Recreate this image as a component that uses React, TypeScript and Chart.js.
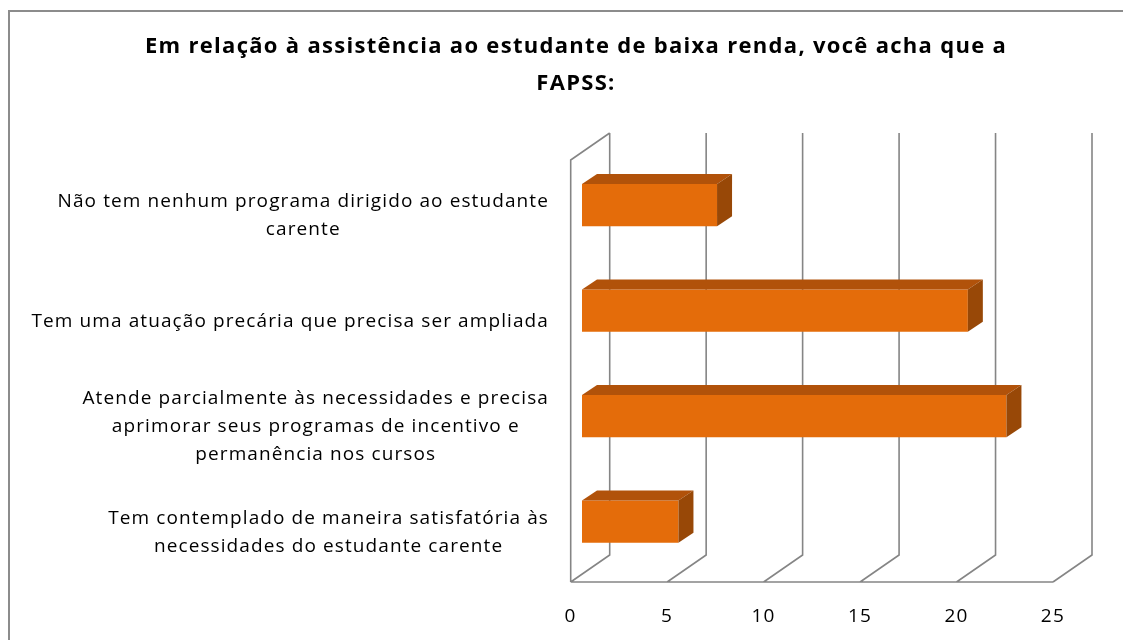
import React, { useEffect, useRef } from "react";
import { Chart, registerables } from "chart.js";

Chart.register(...registerables);

// ---------- data ----------
const titleLines = [
  "Em relação à assistência ao estudante de baixa renda, você acha que a",
  "FAPSS:",
];
const categories: string[][] = [
  ["Não tem nenhum programa dirigido ao estudante", "carente"],
  ["Tem uma atuação precária que precisa ser ampliada"],
  [
    "Atende parcialmente às necessidades e precisa",
    "aprimorar seus programas de incentivo e",
    "permanência nos cursos",
  ],
  ["Tem contemplado de maneira satisfatória às", "necessidades do estudante carente"],
];
const values = [7, 20, 22, 5];
const xMin = 0;
const xMax = 25;
const xStep = 5;

// ---------- layout / style ----------
const W = 1152;
const H = 640;
const AREA_LEFT = 570.7;
const AREA_RIGHT = 1053;
const AREA_TOP = 160;
const AREA_BOTTOM = 582;
const DEPTH_X = 39;
const DEPTH_Y = 27;
const BAR_SHIFT_X = 11.3;
const BAR_SHIFT_Y = -7.7;
const BAR_DEPTH_X = 15;
const BAR_DEPTH_Y = 10;
const FONT = '"Open Sans", "Noto Sans", sans-serif';
const LABEL_SIZE = 19;
const LABEL_SPACING = "1.1px";
const TITLE_SPACING = "1.3px";
const LABEL_LINE_H = 28;
const LABEL_RIGHT = 549;
const FRONT_COLOR = "#E46C0A";
const TOP_COLOR = "#B1520A";
const SIDE_COLOR = "#984807";
const GRID_COLOR = "#858585";

const frame3d = {
  id: "frame3d",
  beforeDraw(chart: any) {
    const ctx = chart.ctx;
    ctx.save();
    ctx.fillStyle = "#ffffff";
    ctx.fillRect(0, 0, W, H);
    ctx.strokeStyle = "#8c8c8c";
    ctx.lineWidth = 2;
    ctx.strokeRect(9, 11, W + 40, H + 40);
    ctx.restore();
    // wide letter spacing for the title / tick texts drawn by Chart.js
    (ctx as any).letterSpacing = TITLE_SPACING;
  },
  beforeDatasetsDraw(chart: any) {
    const { ctx, chartArea: a, scales } = chart;
    const x = scales.x;
    ctx.save();
    ctx.strokeStyle = GRID_COLOR;
    ctx.lineWidth = 1.6;
    ctx.beginPath();
    // left wall
    ctx.moveTo(a.left, a.bottom);
    ctx.lineTo(a.left, a.top);
    ctx.lineTo(a.left + DEPTH_X, a.top - DEPTH_Y);
    // front floor edge
    ctx.moveTo(a.left, a.bottom);
    ctx.lineTo(a.right, a.bottom);
    // floor slants + back wall gridlines
    x.ticks.forEach((t: any) => {
      const px = x.getPixelForValue(t.value);
      ctx.moveTo(px, a.bottom);
      ctx.lineTo(px + DEPTH_X, a.bottom - DEPTH_Y);
      ctx.lineTo(px + DEPTH_X, a.top - DEPTH_Y);
    });
    ctx.stroke();
    ctx.restore();
    // bars sit a little behind the front plane
    ctx.save();
    ctx.translate(BAR_SHIFT_X, BAR_SHIFT_Y);
  },
  afterDatasetsDraw(chart: any) {
    const ctx = chart.ctx;
    const meta = chart.getDatasetMeta(0);
    meta.data.forEach((bar: any) => {
      const { x, y, base, height } = bar.getProps(["x", "y", "base", "height"], true);
      const top = y - height / 2;
      const bottom = y + height / 2;
      const x0 = base;
      const x1 = x;
      ctx.fillStyle = TOP_COLOR;
      ctx.beginPath();
      ctx.moveTo(x0, top);
      ctx.lineTo(x0 + BAR_DEPTH_X, top - BAR_DEPTH_Y);
      ctx.lineTo(x1 + BAR_DEPTH_X, top - BAR_DEPTH_Y);
      ctx.lineTo(x1, top);
      ctx.closePath();
      ctx.fill();
      ctx.fillStyle = SIDE_COLOR;
      ctx.beginPath();
      ctx.moveTo(x1, top);
      ctx.lineTo(x1 + BAR_DEPTH_X, top - BAR_DEPTH_Y);
      ctx.lineTo(x1 + BAR_DEPTH_X, bottom - BAR_DEPTH_Y);
      ctx.lineTo(x1, bottom);
      ctx.closePath();
      ctx.fill();
    });
    ctx.restore();
  },
  afterDraw(chart: any) {
    const { ctx, scales } = chart;
    const y = scales.y;
    ctx.save();
    ctx.font = `${LABEL_SIZE}px ${FONT}`;
    (ctx as any).letterSpacing = LABEL_SPACING;
    ctx.fillStyle = "#000000";
    ctx.textAlign = "center";
    ctx.textBaseline = "middle";
    categories.forEach((lines, i) => {
      const cy = y.getPixelForValue(i) + 3;
      const w = Math.max(...lines.map((l) => ctx.measureText(l).width));
      const cx = LABEL_RIGHT - w / 2;
      lines.forEach((l, j) => {
        ctx.fillText(l, cx, cy + (j - (lines.length - 1) / 2) * LABEL_LINE_H);
      });
    });
    ctx.restore();
  },
};

export default function App() {
  const canvasRef = useRef<HTMLCanvasElement | null>(null);

  useEffect(() => {
    const canvas = canvasRef.current;
    if (!canvas) return;
    const chart = new Chart(canvas, {
      type: "bar",
      data: {
        labels: categories,
        datasets: [
          {
            data: values,
            backgroundColor: FRONT_COLOR,
            borderWidth: 0,
            barPercentage: 0.4,
            categoryPercentage: 1,
            clip: false as any,
          },
        ],
      },
      options: {
        indexAxis: "y",
        responsive: false,
        animation: false,
        devicePixelRatio: 1,
        layout: { padding: 0 },
        plugins: {
          legend: { display: false },
          tooltip: { enabled: false },
          title: {
            display: true,
            text: titleLines,
            color: "#000000",
            font: { family: FONT, size: 22, weight: "bold", lineHeight: 37 / 22 },
            padding: { top: 28.5, bottom: AREA_TOP - 28.5 - 74 },
          },
        },
        scales: {
          x: {
            type: "linear",
            min: xMin,
            max: xMax,
            ticks: {
              stepSize: xStep,
              color: "#000000",
              font: { family: FONT, size: LABEL_SIZE },
              padding: 23,
            },
            grid: { display: false, drawTicks: false },
            border: { display: false },
            afterFit: (s: any) => {
              s.height = H - AREA_BOTTOM;
            },
          },
          y: {
            type: "category",
            ticks: { display: false },
            grid: { display: false, drawTicks: false },
            border: { display: false },
            afterFit: (s: any) => {
              s.width = AREA_LEFT;
            },
          },
          yRight: {
            type: "category",
            position: "right",
            ticks: { display: false },
            grid: { display: false, drawTicks: false },
            border: { display: false },
            afterFit: (s: any) => {
              s.width = W - AREA_RIGHT;
            },
          },
        },
      } as any,
      plugins: [frame3d],
    });
    return () => chart.destroy();
  }, []);

  return (
    <div
      style={{
        position: "fixed",
        left: 0,
        top: 0,
        width: 1123,
        height: 640,
        overflow: "hidden",
        background: "#ffffff",
      }}
    >
      <canvas ref={canvasRef} width={W} height={H} style={{ display: "block" }} />
    </div>
  );
}
